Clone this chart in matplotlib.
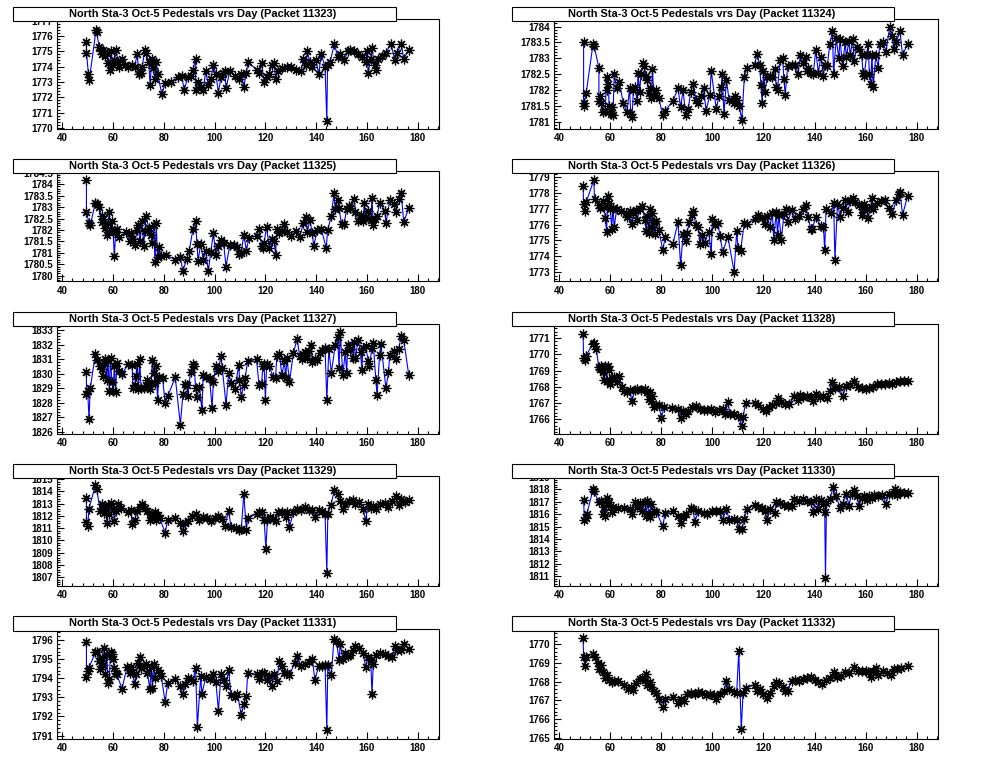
import matplotlib
matplotlib.use("Agg")
import matplotlib.pyplot as plt
from matplotlib.patches import Rectangle
from matplotlib.ticker import MultipleLocator

plt.rcParams['font.family'] = ['Liberation Sans', 'DejaVu Sans']
plt.rcParams['font.weight'] = 'bold'

# ---- data: pedestal value vs day, one pair of lists per packet ----
day_11323 = [49.5, 49.5, 50.3, 50.6, 53.3, 53.5, 54.5, 55.2, 55.6, 56.2, 56.8, 57.5, 58.0, 58.6, 59.2, 59.8,
             60.5, 61.3, 61.8, 62.5, 63.5, 64.5, 66.0, 67.5, 68.5, 69.5, 70.2, 70.8, 71.5, 72.5, 73.0, 74.0,
             74.6, 75.2, 75.8, 76.5, 77.0, 77.6, 79.2, 80.5, 83.0, 85.5, 87.0, 88.0, 89.5, 90.5, 91.5, 92.5,
             92.6, 93.5, 94.5, 95.5, 96.5, 97.5, 98.5, 99.5, 100.5, 101.5, 102.5, 103.2, 104.0, 104.5, 106.0,
             108.0, 109.5, 110.5, 111.5, 112.5, 113.2, 116.5, 117.5, 118.5, 119.5, 120.5, 121.5, 122.5, 123.5,
             124.0, 125.0, 126.5, 128.5, 130.0, 132.0, 134.0, 135.0, 136.0, 136.5, 137.5, 138.5, 140.0, 141.0,
             142.0, 143.5, 144.2, 144.5, 145.5, 147.2, 148.5, 149.5, 151.0, 152.5, 153.5, 155.0, 156.5, 158.0,
             159.5, 160.0, 160.5, 161.5, 162.0, 163.0, 163.5, 164.5, 166.0, 167.5, 169.5, 171.0, 172.0, 173.5,
             174.5, 176.5]
ped_11323 = [1775.6, 1774.9, 1773.5, 1773.1, 1776.4, 1776.25, 1775.3, 1775.0, 1774.8, 1775.1, 1774.7, 1774.9,
             1774.2, 1773.8, 1775.0, 1774.1, 1774.4, 1775.1, 1774.3, 1774.0, 1774.5, 1774.1, 1774.0, 1774.1,
             1774.0, 1774.8, 1773.5, 1773.6, 1774.0, 1775.1, 1774.9, 1774.3, 1772.8, 1774.5, 1773.9, 1773.2,
             1774.3, 1773.5, 1772.2, 1772.9, 1773.0, 1773.3, 1773.4, 1772.5, 1773.3, 1773.4, 1773.8, 1774.5,
             1772.5, 1773.0, 1772.7, 1772.5, 1773.7, 1772.8, 1773.2, 1774.1, 1773.5, 1772.3, 1773.3, 1773.6,
             1773.7, 1772.6, 1773.7, 1773.4, 1773.2, 1773.5, 1772.7, 1773.6, 1774.3, 1773.8, 1773.6, 1774.2,
             1773.0, 1773.3, 1773.5, 1774.1, 1774.2, 1773.2, 1773.7, 1773.9, 1774.0, 1774.0, 1773.8, 1773.7,
             1774.5, 1774.1, 1775.0, 1774.3, 1774.0, 1774.4, 1773.5, 1774.8, 1774.0, 1770.45, 1774.1, 1774.3,
             1775.5, 1774.6, 1774.8, 1774.4, 1775.0, 1775.1, 1775.0, 1774.8, 1774.6, 1774.3, 1775.0, 1773.6,
             1774.5, 1775.2, 1774.1, 1773.8, 1774.5, 1774.7, 1774.9, 1775.5, 1774.4, 1774.9, 1775.5, 1774.5,
             1775.1]

day_11324 = [49.5, 49.5, 49.8, 50.5, 53.2, 53.6, 55.5, 55.5, 56.0, 56.5, 57.3, 58.0, 58.5, 58.8, 59.2, 59.5,
             60.2, 60.5, 61.0, 61.5, 62.5, 63.5, 65.0, 66.5, 67.5, 68.0, 68.5, 69.0, 69.5, 70.5, 70.8, 71.5,
             72.0, 72.8, 73.3, 74.0, 74.5, 75.0, 75.5, 76.0, 76.5, 77.0, 77.5, 78.0, 79.0, 80.5, 81.5, 84.5,
             86.5, 87.5, 88.5, 89.5, 90.5, 91.5, 92.5, 93.5, 94.5, 95.5, 96.5, 97.5, 99.0, 99.5, 101.5, 102.5,
             103.5, 103.8, 104.5, 105.5, 106.5, 108.5, 109.0, 109.5, 110.5, 111.5, 112.5, 113.5, 116.5, 117.5,
             118.5, 119.0, 119.5, 120.0, 120.5, 121.5, 122.5, 123.5, 124.5, 125.0, 125.5, 126.5, 127.5, 128.0,
             128.5, 129.5, 131.0, 132.5, 133.5, 134.5, 135.5, 136.5, 137.0, 137.5, 138.5, 139.5, 140.5, 141.5,
             142.5, 143.5, 144.0, 145.0, 146.0, 147.0, 147.5, 148.5, 149.5, 150.0, 151.0, 152.0, 152.5, 153.5,
             154.0, 155.0, 155.5, 156.5, 157.5, 158.5, 159.0, 159.5, 160.5, 161.0, 161.5, 162.0, 162.5, 163.0,
             164.0, 165.0, 165.5, 167.0, 168.0, 169.5, 170.5, 171.0, 172.0, 173.5, 174.5, 176.5]
ped_11324 = [1783.5, 1781.5, 1781.6, 1781.9, 1783.45, 1783.4, 1782.7, 1781.65, 1781.8, 1781.6, 1781.3, 1781.35,
             1782.4, 1782.0, 1782.2, 1781.5, 1781.25, 1781.45, 1781.2, 1782.5, 1782.05, 1782.25, 1781.6, 1781.3,
             1782.05, 1781.25, 1781.15, 1782.0, 1782.1, 1781.65, 1782.55, 1781.95, 1782.5, 1782.85, 1782.75,
             1782.45, 1782.3, 1781.9, 1782.05, 1781.75, 1782.65, 1781.8, 1781.9, 1782.0, 1781.75, 1781.2,
             1781.35, 1781.65, 1782.05, 1781.45, 1782.0, 1781.2, 1781.4, 1781.95, 1782.2, 1781.7, 1781.6,
             1781.8, 1782.05, 1781.35, 1781.85, 1782.6, 1781.4, 1781.8, 1782.1, 1782.5, 1781.25, 1782.3,
             1781.7, 1781.6, 1781.8, 1781.7, 1781.5, 1781.05, 1782.4, 1782.7, 1782.8, 1783.15, 1782.8, 1782.15,
             1781.6, 1782.6, 1781.95, 1782.4, 1782.45, 1782.4, 1782.65, 1782.1, 1782.0, 1782.95, 1783.0,
             1782.35, 1781.85, 1782.75, 1782.8, 1782.8, 1782.5, 1783.1, 1782.85, 1783.05, 1782.6, 1782.7,
             1782.55, 1782.5, 1783.25, 1782.55, 1783.05, 1782.45, 1782.8, 1782.75, 1783.45, 1783.85, 1782.5,
             1783.65, 1783.0, 1783.6, 1782.75, 1783.5, 1783.05, 1783.55, 1783.1, 1783.6, 1782.9, 1783.35,
             1783.3, 1783.1, 1782.55, 1782.45, 1783.15, 1783.45, 1782.5, 1782.2, 1783.1, 1782.1, 1783.1,
             1782.7, 1783.45, 1783.5, 1783.2, 1784.0, 1783.7, 1783.3, 1783.5, 1783.85, 1783.1, 1783.45]

day_11325 = [49.5, 49.5, 50.5, 51.0, 53.0, 53.5, 54.5, 55.5, 55.8, 56.2, 57.0, 57.5, 58.0, 58.5, 59.0, 59.5,
             60.0, 60.5, 61.0, 61.5, 62.5, 65.0, 66.5, 67.0, 67.5, 68.5, 69.5, 70.0, 70.5, 71.5, 72.0, 72.5,
             73.0, 74.0, 75.0, 75.5, 76.0, 76.5, 77.0, 77.5, 78.0, 79.0, 81.0, 84.5, 86.5, 87.5, 89.0, 90.0,
             91.5, 92.5, 93.0, 93.5, 94.5, 95.5, 96.5, 97.5, 98.5, 99.5, 100.5, 101.5, 102.5, 103.5, 104.5,
             106.0, 107.5, 109.0, 109.5, 110.5, 111.5, 112.5, 113.5, 116.5, 117.5, 118.5, 119.0, 119.5, 120.5,
             121.5, 122.5, 123.5, 124.0, 124.5, 125.5, 126.5, 127.5, 128.5, 130.0, 132.0, 133.5, 135.0, 136.0,
             136.5, 137.5, 138.5, 139.0, 140.5, 142.0, 144.0, 144.5, 146.0, 147.0, 147.5, 148.5, 149.0, 150.0,
             151.0, 152.0, 153.0, 153.5, 155.0, 155.5, 156.5, 157.5, 158.5, 159.0, 159.5, 160.5, 161.5, 162.0,
             162.5, 163.0, 164.0, 165.0, 167.0, 167.5, 169.0, 170.5, 171.5, 172.5, 173.5, 174.5, 176.5]
ped_11325 = [1784.2, 1782.8, 1782.3, 1782.2, 1783.2, 1783.15, 1783.0, 1782.6, 1782.35, 1782.5, 1782.1, 1781.8,
             1782.3, 1782.8, 1782.0, 1782.4, 1781.9, 1780.85, 1781.9, 1782.05, 1781.7, 1781.9, 1781.5, 1781.85,
             1781.6, 1781.35, 1782.0, 1782.2, 1781.5, 1782.4, 1781.3, 1781.95, 1782.6, 1782.1, 1781.8, 1781.45,
             1782.2, 1780.6, 1782.3, 1780.8, 1781.25, 1780.85, 1780.9, 1780.7, 1780.8, 1780.2, 1780.75, 1781.1,
             1782.05, 1782.4, 1781.4, 1780.65, 1781.4, 1780.7, 1781.1, 1780.2, 1781.05, 1781.85, 1780.9,
             1781.3, 1781.55, 1781.45, 1780.4, 1781.35, 1781.35, 1781.25, 1780.95, 1781.0, 1781.8, 1781.1,
             1781.65, 1781.75, 1782.05, 1781.3, 1781.2, 1781.45, 1782.15, 1781.2, 1781.6, 1781.5, 1780.9,
             1782.05, 1781.85, 1781.95, 1782.25, 1781.9, 1781.75, 1781.95, 1781.7, 1782.3, 1782.55, 1781.9,
             1782.45, 1781.85, 1781.3, 1782.0, 1782.05, 1781.2, 1782.0, 1782.6, 1783.6, 1782.9, 1783.3,
             1782.95, 1782.25, 1782.25, 1782.9, 1783.05, 1782.95, 1783.35, 1782.8, 1782.4, 1782.65, 1782.4,
             1783.2, 1782.55, 1782.85, 1782.45, 1783.4, 1782.2, 1782.5, 1782.6, 1783.2, 1782.85, 1782.3,
             1783.3, 1783.15, 1782.8, 1783.35, 1783.6, 1782.35, 1782.95]

day_11326 = [49.3, 49.5, 50.0, 50.5, 53.5, 53.8, 55.5, 56.0, 57.0, 57.5, 58.0, 58.5, 59.0, 59.3, 60.0, 60.5,
             61.0, 61.5, 62.5, 64.0, 66.0, 66.5, 67.5, 68.5, 69.0, 70.0, 70.5, 71.5, 72.5, 73.5, 74.0, 74.5,
             75.0, 75.5, 76.0, 76.5, 77.0, 77.5, 78.0, 79.0, 80.5, 81.5, 84.5, 86.5, 87.5, 88.5, 89.5, 90.0,
             91.0, 92.0, 92.5, 93.5, 94.5, 95.0, 96.0, 97.0, 98.5, 99.5, 100.0, 101.0, 102.0, 103.0, 104.0,
             106.0, 108.5, 109.5, 110.0, 111.0, 112.5, 113.5, 116.5, 118.0, 119.5, 120.5, 121.5, 122.5, 123.5,
             124.0, 125.0, 125.5, 126.0, 127.0, 128.0, 129.0, 129.5, 131.0, 132.5, 134.0, 135.5, 136.5, 137.5,
             138.5, 139.0, 140.5, 142.5, 143.5, 144.0, 144.5, 146.5, 147.5, 148.0, 149.0, 150.0, 151.0, 152.0,
             153.0, 154.0, 155.0, 156.0, 157.5, 158.5, 159.0, 159.5, 160.5, 161.0, 162.0, 162.5, 163.0, 164.5,
             166.0, 167.5, 169.0, 170.5, 172.0, 173.0, 173.5, 174.5, 176.5]
ped_11326 = [1778.4, 1777.3, 1776.85, 1777.4, 1778.8, 1777.6, 1777.2, 1777.05, 1777.5, 1777.1, 1776.4, 1775.55,
             1777.8, 1777.35, 1776.95, 1775.75, 1777.05, 1775.85, 1777.0, 1776.85, 1776.75, 1776.5, 1776.85,
             1776.05, 1776.7, 1776.9, 1776.3, 1776.95, 1777.15, 1776.3, 1775.6, 1776.55, 1775.5, 1777.0,
             1775.85, 1776.7, 1776.15, 1775.4, 1776.25, 1775.65, 1774.4, 1775.2, 1774.8, 1776.15, 1773.45,
             1775.4, 1774.95, 1775.5, 1776.15, 1776.6, 1776.85, 1775.95, 1775.85, 1774.8, 1775.35, 1774.85,
             1775.55, 1774.15, 1776.35, 1776.0, 1776.1, 1775.3, 1774.25, 1775.25, 1773.05, 1775.6, 1774.55,
             1774.35, 1776.1, 1776.05, 1776.35, 1776.6, 1776.4, 1776.05, 1776.55, 1775.85, 1776.7, 1775.05,
             1776.8, 1775.35, 1776.6, 1775.05, 1776.65, 1776.95, 1776.15, 1776.9, 1776.35, 1776.55, 1776.95,
             1777.25, 1776.45, 1775.75, 1775.7, 1776.45, 1775.9, 1775.85, 1774.4, 1776.95, 1776.7, 1777.35,
             1773.8, 1777.3, 1776.5, 1777.05, 1777.55, 1776.8, 1777.45, 1777.65, 1777.4, 1777.2, 1776.6,
             1776.95, 1777.3, 1777.0, 1776.4, 1777.1, 1777.7, 1777.0, 1777.35, 1777.5, 1777.55, 1777.05,
             1776.65, 1777.55, 1777.9, 1778.05, 1776.6, 1777.8]

day_11327 = [49.5, 49.5, 50.0, 50.5, 51.0, 53.0, 53.5, 55.0, 55.5, 56.0, 56.5, 57.0, 57.5, 58.0, 58.5, 59.0,
             59.5, 60.0, 60.5, 61.0, 61.5, 62.5, 63.5, 66.0, 67.5, 67.8, 68.5, 69.0, 69.5, 70.0, 70.5, 71.0,
             72.0, 73.0, 73.5, 74.5, 75.0, 75.5, 76.0, 76.5, 77.0, 77.5, 78.0, 79.5, 80.5, 81.5, 84.5, 86.5,
             87.5, 88.5, 89.0, 89.5, 90.5, 91.5, 92.0, 92.5, 93.0, 94.0, 95.0, 95.5, 96.5, 98.0, 99.0, 99.5,
             100.5, 101.5, 102.5, 103.0, 104.5, 105.5, 106.5, 108.0, 109.5, 109.8, 110.5, 111.5, 112.0, 113.0,
             116.5, 117.5, 118.5, 119.0, 119.5, 120.0, 120.5, 121.5, 123.0, 124.0, 124.5, 125.5, 126.5, 127.5,
             128.0, 128.5, 129.5, 131.0, 132.5, 133.5, 134.5, 135.0, 135.5, 136.5, 137.0, 138.0, 138.5, 139.5,
             140.5, 141.5, 142.5, 143.5, 144.2, 145.0, 146.0, 147.5, 148.5, 149.0, 149.5, 150.5, 151.5, 152.0,
             152.5, 153.5, 154.5, 155.0, 155.5, 156.5, 157.5, 158.0, 158.5, 159.5, 160.5, 161.0, 162.0, 162.5,
             163.5, 164.0, 165.0, 165.5, 167.5, 168.5, 169.0, 170.5, 171.5, 172.5, 173.5, 174.5, 176.5]
ped_11327 = [1830.15, 1828.6, 1828.85, 1826.9, 1829.0, 1831.35, 1830.95, 1830.55, 1830.3, 1829.85, 1830.75,
             1831.0, 1829.6, 1830.95, 1828.85, 1831.05, 1829.45, 1828.85, 1830.55, 1828.75, 1830.75, 1830.2,
             1830.0, 1830.65, 1830.6, 1829.05, 1829.2, 1829.85, 1830.7, 1828.95, 1831.0, 1829.05, 1829.0,
             1829.25, 1829.6, 1828.95, 1829.35, 1830.95, 1830.05, 1829.4, 1830.55, 1828.2, 1829.8, 1829.7,
             1828.0, 1828.45, 1829.75, 1826.5, 1828.6, 1829.3, 1829.2, 1828.5, 1830.15, 1830.7, 1830.5,
             1829.0, 1828.4, 1829.1, 1827.5, 1829.95, 1829.8, 1829.7, 1827.65, 1829.45, 1830.55, 1830.2,
             1831.25, 1830.4, 1827.85, 1830.05, 1829.35, 1828.95, 1830.6, 1829.6, 1828.4, 1829.25, 1829.7,
             1830.85, 1831.0, 1829.2, 1829.3, 1830.55, 1830.65, 1828.2, 1830.7, 1830.55, 1829.8, 1829.7,
             1831.2, 1831.35, 1829.9, 1830.9, 1829.7, 1831.05, 1829.45, 1831.4, 1832.4, 1831.2, 1831.0,
             1831.35, 1831.5, 1831.1, 1831.55, 1831.95, 1830.8, 1831.0, 1830.95, 1831.45, 1831.6, 1831.75,
             1828.2, 1831.7, 1830.05, 1831.95, 1832.5, 1830.4, 1832.85, 1829.95, 1831.5, 1830.05, 1832.0,
             1831.7, 1831.1, 1832.2, 1831.05, 1832.35, 1831.5, 1830.25, 1831.8, 1831.9, 1830.9, 1830.55,
             1831.8, 1832.1, 1829.6, 1828.55, 1831.3, 1832.05, 1829.0, 1830.1, 1831.3, 1831.55, 1831.0,
             1831.7, 1832.6, 1832.3, 1829.9]

day_11328 = [49.3, 49.5, 50.0, 50.5, 53.0, 53.5, 54.5, 55.5, 56.0, 56.5, 57.0, 57.5, 58.0, 58.5, 59.0, 59.5,
             60.0, 60.5, 61.5, 62.5, 63.5, 64.5, 65.5, 66.5, 67.5, 68.5, 69.5, 70.5, 72.0, 73.5, 74.5, 75.0,
             75.5, 76.0, 76.5, 77.0, 78.0, 79.0, 80.0, 81.0, 84.0, 86.5, 87.5, 88.5, 89.5, 90.5, 92.0, 93.5,
             95.0, 96.5, 98.0, 99.5, 101.0, 102.5, 104.0, 105.0, 106.0, 107.0, 108.5, 110.0, 111.5, 112.0,
             113.0, 116.5, 118.0, 120.0, 121.0, 122.0, 123.5, 125.0, 125.5, 127.0, 128.5, 130.0, 132.0, 133.5,
             134.5, 135.5, 137.0, 138.5, 139.5, 140.5, 142.0, 143.5, 145.0, 146.0, 147.0, 148.0, 149.5, 151.0,
             152.5, 154.0, 155.5, 157.0, 158.5, 160.0, 161.5, 163.0, 164.5, 166.0, 167.5, 169.0, 170.5, 172.0,
             173.5, 175.0, 176.5]
ped_11328 = [1771.25, 1769.75, 1769.65, 1769.9, 1770.65, 1770.7, 1770.3, 1769.2, 1769.1, 1769.3, 1768.9,
             1768.4, 1769.3, 1768.35, 1769.3, 1769.05, 1768.2, 1768.55, 1768.6, 1768.3, 1768.65, 1768.0,
             1767.75, 1767.7, 1767.8, 1767.1, 1767.8, 1767.85, 1767.8, 1767.85, 1767.65, 1767.25, 1767.7,
             1767.1, 1767.4, 1766.75, 1766.9, 1766.9, 1766.05, 1766.75, 1766.7, 1766.65, 1766.05, 1766.5,
             1766.35, 1766.5, 1766.75, 1766.8, 1766.65, 1766.55, 1766.55, 1766.6, 1766.45, 1766.55, 1766.65,
             1766.3, 1767.05, 1766.3, 1766.3, 1766.2, 1765.6, 1766.15, 1767.0, 1767.0, 1766.9, 1766.6, 1766.5,
             1766.75, 1766.85, 1767.0, 1767.3, 1767.05, 1766.95, 1766.95, 1767.4, 1767.2, 1767.5, 1767.35,
             1767.45, 1767.35, 1767.15, 1767.55, 1767.35, 1767.4, 1767.3, 1767.75, 1768.3, 1767.95, 1768.0,
             1767.45, 1768.05, 1768.1, 1768.35, 1768.0, 1767.9, 1767.85, 1767.9, 1768.0, 1768.2, 1768.15,
             1768.2, 1768.25, 1768.15, 1768.3, 1768.35, 1768.35, 1768.35]

day_11329 = [49.5, 49.5, 50.0, 50.5, 53.0, 53.5, 55.0, 55.5, 56.0, 56.5, 57.0, 57.5, 58.0, 58.5, 59.0, 60.0,
             60.5, 61.0, 62.0, 63.0, 66.0, 67.0, 67.5, 68.5, 69.5, 70.5, 71.5, 72.5, 73.5, 74.5, 75.0, 75.5,
             76.5, 77.0, 77.5, 78.5, 80.5, 81.5, 84.5, 86.5, 87.5, 88.5, 89.5, 91.0, 92.5, 94.0, 95.5, 97.0,
             98.5, 100.0, 101.5, 103.0, 104.0, 105.5, 106.5, 108.5, 109.5, 110.5, 111.5, 112.5, 113.0, 116.5,
             117.5, 118.5, 119.5, 120.2, 120.8, 122.0, 123.0, 124.0, 125.0, 126.5, 128.0, 128.5, 129.5, 131.0,
             132.5, 134.0, 135.5, 137.0, 138.5, 139.5, 141.0, 142.5, 143.5, 144.2, 144.6, 145.8, 147.2, 148.5,
             149.5, 150.5, 151.5, 153.0, 154.5, 155.5, 157.0, 158.5, 159.5, 160.5, 161.5, 162.5, 163.5, 165.0,
             167.0, 168.5, 170.0, 171.5, 172.5, 173.5, 175.0, 176.5]
ped_11329 = [1813.45, 1811.5, 1811.2, 1812.6, 1814.5, 1814.2, 1812.4, 1813.0, 1812.5, 1812.25, 1812.6, 1811.4,
             1812.9, 1812.2, 1813.05, 1812.55, 1811.55, 1812.4, 1812.95, 1812.65, 1812.3, 1812.5, 1811.35,
             1811.7, 1812.4, 1812.7, 1813.0, 1812.65, 1812.4, 1811.7, 1812.2, 1811.85, 1812.35, 1811.65,
             1812.1, 1811.8, 1810.6, 1811.7, 1811.8, 1811.4, 1810.8, 1811.45, 1811.55, 1812.0, 1812.15,
             1811.65, 1811.9, 1811.85, 1811.6, 1811.8, 1812.0, 1811.75, 1811.15, 1812.4, 1811.1, 1811.0,
             1810.85, 1810.9, 1813.8, 1810.85, 1811.8, 1812.2, 1812.3, 1812.35, 1811.7, 1809.3, 1811.7,
             1811.9, 1811.75, 1811.55, 1812.35, 1812.35, 1811.9, 1812.3, 1811.1, 1812.3, 1812.6, 1812.5,
             1812.75, 1812.45, 1812.5, 1811.95, 1812.5, 1812.4, 1812.2, 1807.35, 1812.2, 1812.9, 1814.1,
             1813.8, 1813.2, 1812.55, 1813.0, 1813.2, 1813.3, 1813.0, 1813.15, 1812.6, 1811.6, 1813.0,
             1812.65, 1812.85, 1812.6, 1813.0, 1813.1, 1812.75, 1813.2, 1813.65, 1812.9, 1813.4, 1813.15,
             1813.3]

day_11330 = [49.5, 49.8, 50.3, 50.8, 53.2, 53.5, 55.5, 56.5, 57.0, 57.5, 58.0, 58.5, 59.0, 59.5, 60.5, 61.0,
             63.0, 65.5, 67.5, 68.5, 69.5, 70.5, 71.5, 72.5, 73.5, 74.0, 74.5, 75.0, 75.5, 76.0, 77.0, 78.0,
             80.5, 81.5, 84.5, 86.5, 87.5, 88.5, 89.5, 91.5, 92.5, 93.0, 94.5, 96.5, 98.0, 100.0, 101.5, 103.0,
             104.0, 105.5, 106.5, 108.5, 109.5, 110.5, 111.5, 112.5, 113.5, 116.5, 118.0, 119.5, 120.5, 121.5,
             122.5, 124.5, 125.0, 126.5, 128.0, 129.5, 131.0, 132.0, 134.0, 135.5, 137.0, 138.5, 139.5, 140.5,
             141.5, 142.5, 143.5, 144.0, 144.3, 144.7, 146.0, 147.3, 148.5, 150.0, 151.0, 152.5, 153.5, 154.5,
             155.5, 156.5, 157.5, 158.5, 159.5, 160.5, 161.5, 162.5, 163.5, 165.0, 166.5, 168.0, 169.0, 170.5,
             171.5, 172.5, 173.5, 175.0, 176.5]
ped_11330 = [1817.15, 1815.55, 1815.7, 1816.05, 1818.0, 1817.9, 1816.95, 1817.1, 1816.0, 1816.6, 1815.85,
             1817.35, 1816.75, 1817.0, 1816.15, 1816.6, 1816.5, 1816.5, 1816.45, 1816.0, 1817.0, 1816.6,
             1816.9, 1816.3, 1816.95, 1815.9, 1817.1, 1816.05, 1815.75, 1816.8, 1816.3, 1816.2, 1815.05,
             1816.1, 1816.25, 1815.85, 1815.3, 1815.8, 1816.0, 1816.5, 1816.45, 1815.35, 1816.25, 1816.1,
             1816.05, 1816.25, 1816.3, 1816.25, 1815.55, 1816.45, 1815.55, 1815.6, 1815.5, 1814.85, 1814.8,
             1815.6, 1816.4, 1816.75, 1816.6, 1816.5, 1816.3, 1815.55, 1816.45, 1816.1, 1817.0, 1816.9,
             1816.75, 1816.7, 1816.7, 1817.2, 1817.05, 1817.25, 1817.1, 1817.0, 1816.2, 1817.2, 1816.4,
             1817.15, 1816.85, 1816.2, 1810.85, 1816.9, 1817.2, 1818.2, 1817.45, 1816.5, 1816.85, 1817.65,
             1816.7, 1817.6, 1817.95, 1817.5, 1816.7, 1817.35, 1817.5, 1817.15, 1817.5, 1817.3, 1817.55,
             1817.5, 1817.55, 1816.85, 1817.6, 1817.6, 1818.0, 1817.55, 1817.8, 1817.7, 1817.75]

day_11331 = [49.5, 49.5, 50.0, 50.5, 53.0, 53.5, 54.5, 55.0, 55.5, 56.0, 56.5, 57.0, 57.5, 58.0, 58.5, 59.0,
             59.5, 60.0, 60.5, 61.0, 61.5, 63.5, 65.5, 66.5, 67.0, 67.5, 68.5, 69.0, 70.0, 70.5, 71.0, 72.0,
             73.0, 73.5, 74.5, 75.0, 75.5, 76.0, 76.5, 77.5, 78.5, 79.0, 80.5, 81.5, 84.5, 86.5, 87.5, 88.5,
             89.5, 90.5, 91.5, 92.5, 93.2, 94.5, 95.0, 96.5, 98.0, 99.5, 100.5, 101.5, 102.5, 103.5, 104.5,
             105.5, 106.5, 108.0, 109.0, 110.5, 111.5, 112.5, 113.0, 116.5, 117.5, 118.5, 119.5, 120.5, 121.5,
             122.5, 123.5, 124.5, 125.5, 126.5, 127.5, 128.5, 129.5, 131.5, 132.5, 134.0, 135.5, 137.0, 138.5,
             139.5, 141.0, 142.5, 143.5, 144.2, 144.6, 146.0, 147.0, 148.0, 149.0, 149.5, 150.5, 151.5, 152.5,
             153.5, 154.5, 155.5, 157.0, 158.5, 159.5, 160.5, 161.5, 162.0, 162.5, 163.5, 165.0, 167.0, 168.5,
             170.0, 171.0, 172.0, 173.5, 174.5, 176.5]
ped_11331 = [1795.9, 1794.05, 1794.4, 1794.55, 1795.35, 1795.4, 1794.9, 1794.5, 1795.05, 1794.7, 1795.6,
             1794.2, 1795.2, 1793.75, 1793.95, 1795.35, 1795.25, 1795.0, 1794.55, 1794.3, 1794.2, 1793.45,
             1794.6, 1794.3, 1794.6, 1794.35, 1793.7, 1794.2, 1794.8, 1795.1, 1794.55, 1794.65, 1794.75,
             1794.25, 1793.45, 1794.6, 1793.5, 1794.75, 1794.0, 1794.45, 1794.3, 1794.1, 1792.75, 1793.75,
             1793.95, 1793.6, 1793.15, 1793.7, 1794.0, 1793.95, 1793.85, 1794.55, 1791.45, 1794.1, 1793.2,
             1794.05, 1793.95, 1794.2, 1793.8, 1792.3, 1794.2, 1793.9, 1793.6, 1794.45, 1793.1, 1793.0,
             1793.2, 1792.05, 1792.65, 1793.05, 1794.25, 1794.2, 1793.95, 1794.3, 1794.25, 1793.9, 1794.1,
             1793.6, 1794.2, 1793.85, 1794.9, 1794.65, 1794.25, 1794.3, 1794.15, 1794.8, 1795.15, 1794.65,
             1794.75, 1794.85, 1795.0, 1793.9, 1794.65, 1794.65, 1794.7, 1791.3, 1794.7, 1794.15, 1796.05,
             1795.95, 1794.95, 1795.8, 1795.0, 1795.3, 1795.15, 1795.2, 1795.5, 1795.7, 1795.6, 1795.3,
             1794.6, 1795.1, 1794.95, 1793.15, 1794.75, 1795.2, 1795.3, 1795.25, 1795.15, 1795.1, 1795.7,
             1795.5, 1795.5, 1795.8, 1795.55]

day_11332 = [49.3, 49.5, 50.0, 50.5, 53.0, 54.0, 55.0, 55.5, 56.5, 57.0, 58.0, 58.5, 59.5, 60.5, 61.5, 63.0,
             65.5, 67.0, 68.0, 69.0, 70.0, 71.5, 72.5, 73.5, 74.0, 74.5, 75.5, 76.0, 77.0, 78.0, 79.0, 80.5,
             81.5, 84.5, 86.5, 87.5, 89.0, 90.0, 91.5, 93.0, 94.5, 96.0, 97.5, 99.0, 100.5, 101.5, 103.0,
             104.5, 105.5, 106.5, 108.5, 109.5, 110.3, 111.3, 112.0, 113.0, 116.5, 117.5, 118.5, 120.0, 121.5,
             122.5, 124.0, 125.0, 126.0, 127.5, 128.5, 129.5, 131.0, 132.5, 134.0, 135.5, 137.0, 138.5, 140.0,
             141.5, 143.0, 144.5, 146.0, 147.5, 149.0, 150.5, 152.0, 153.5, 155.5, 157.0, 158.5, 160.0, 161.0,
             162.0, 163.0, 164.0, 165.0, 167.0, 168.5, 170.0, 171.0, 172.5, 174.0, 176.5]
ped_11332 = [1770.35, 1769.35, 1768.85, 1769.35, 1769.5, 1769.3, 1769.0, 1768.7, 1768.9, 1768.5, 1768.2,
             1768.35, 1768.1, 1768.0, 1768.05, 1768.05, 1767.8, 1767.6, 1767.7, 1767.55, 1767.95, 1768.15,
             1768.2, 1768.1, 1768.4, 1767.8, 1768.0, 1767.7, 1767.5, 1767.4, 1767.1, 1766.65, 1767.05,
             1767.2, 1766.85, 1767.1, 1766.95, 1767.35, 1767.4, 1767.35, 1767.45, 1767.4, 1767.3, 1767.35,
             1767.3, 1767.05, 1767.35, 1767.5, 1768.05, 1767.6, 1767.45, 1767.4, 1769.65, 1765.45, 1767.4,
             1767.65, 1767.85, 1767.5, 1767.6, 1767.35, 1767.15, 1767.4, 1767.75, 1768.0, 1767.95, 1767.7,
             1767.5, 1767.5, 1768.05, 1768.1, 1768.05, 1768.15, 1768.2, 1768.25, 1768.1, 1768.0, 1767.9,
             1768.1, 1768.2, 1768.5, 1768.25, 1768.3, 1768.5, 1768.45, 1768.8, 1768.6, 1768.6, 1768.55,
             1768.5, 1768.25, 1768.55, 1768.75, 1768.35, 1768.55, 1768.45, 1768.35, 1768.7, 1768.7, 1768.75,
             1768.85]

packets = [11323, 11324, 11325, 11326, 11327, 11328, 11329, 11330, 11331, 11332]
days = [day_11323, day_11324, day_11325, day_11326, day_11327,
        day_11328, day_11329, day_11330, day_11331, day_11332]
peds = [ped_11323, ped_11324, ped_11325, ped_11326, ped_11327,
        ped_11328, ped_11329, ped_11330, ped_11331, ped_11332]
# y range of each pad and major tick step
yranges = [(1769.93, 1777.1), (1780.77, 1784.24), (1779.75, 1784.56), (1772.43, 1779.34), (1825.88, 1833.43),
           (1765.1, 1771.88), (1806.26, 1815.25), (1810.2, 1819.07), (1790.84, 1796.6), (1764.95, 1770.85)]
ysteps = [1, 0.5, 0.5, 1, 1, 1, 1, 1, 1, 1]

W, H = 996, 762
fig = plt.figure(figsize=(W / 100, H / 100), dpi=100)
pitch = 152.4
col_x = [(57, 439), (554, 938)]
box_x = [(13, 396), (512, 894)]

for i, pk in enumerate(packets):
    row, col = i // 2, i % 2
    x0, x1 = col_x[col]
    top = 19 + pitch * row
    bot = 129 + pitch * row
    ax = fig.add_axes([x0 / W, 1 - bot / H, (x1 - x0) / W, (bot - top) / H])
    ax.plot(days[i], peds[i], color='blue', lw=0.8, zorder=2)
    ax.plot(days[i], peds[i], ls='none', marker=(8, 2, 0), ms=7, mec='black', mew=0.9, zorder=3)
    ax.set_xlim(37.9, 188.4)
    ax.set_ylim(*yranges[i])
    ax.xaxis.set_major_locator(MultipleLocator(20))
    ax.xaxis.set_minor_locator(MultipleLocator(4))
    ax.yaxis.set_major_locator(MultipleLocator(ysteps[i]))
    ax.yaxis.set_minor_locator(MultipleLocator(ysteps[i] / 5))
    ax.yaxis.set_major_formatter(plt.FuncFormatter(lambda v, p: f"{v:g}"))
    ax.tick_params(which='both', direction='in', top=False, right=False, width=0.8,
                   labelsize=7, pad=3)
    ax.tick_params(which='major', length=5)
    ax.tick_params(which='minor', length=2.5)
    for sp in ax.spines.values():
        sp.set_linewidth(0.8)

    # title box over the top of the frame
    bx0, bx1 = box_x[col]
    btop = 6.7 + pitch * row
    bbot = 21 + pitch * row
    fig.patches.append(Rectangle((bx0 / W, 1 - bbot / H), (bx1 - bx0) / W, (bbot - btop) / H,
                                 transform=fig.transFigure, facecolor='white', edgecolor='black',
                                 lw=0.8, zorder=5))
    fig.text((bx0 + bx1) / 2 / W - 1.5 / W, 1 - (btop + bbot) / 2 / H,
             f"North Sta-3 Oct-5 Pedestals vrs Day (Packet {pk})",
             ha='center', va='center', fontsize=7.9, fontweight='bold', zorder=6)

fig.savefig("out.png", dpi=100)
